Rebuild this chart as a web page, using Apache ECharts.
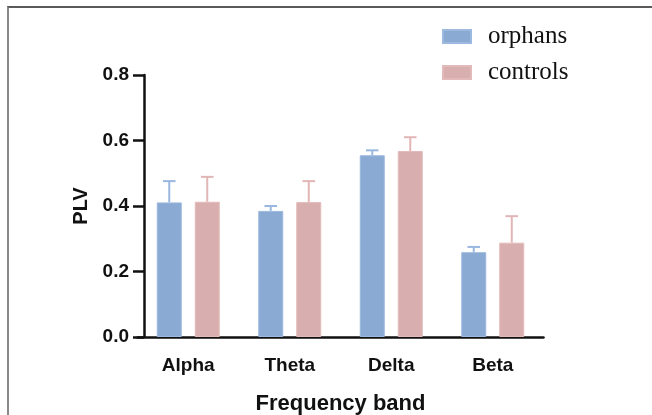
<!DOCTYPE html>
<html>
<head>
<meta charset="utf-8">
<script src="https://cdn.jsdelivr.net/npm/echarts@6/dist/echarts.min.js"></script>
<style>
  html, body { margin: 0; padding: 0; background: #fff; }
  #wrap { position: relative; width: 652px; height: 415px; }
  #chart { width: 652px; height: 415px; }
  #frame { position: absolute; left: 7px; top: 6px; right: 0; bottom: 0;
           border-top: 2px solid #5a5a5a; border-left: 2px solid #8a8a8a; pointer-events: none; }
</style>
</head>
<body>
<div id="wrap">
  <div id="chart"></div>
  <div id="frame"></div>
</div>
<script>
const categories = ['Alpha', 'Theta', 'Delta', 'Beta'];
const seriesNames = ['orphans', 'controls'];
const orphansMean = [0.411, 0.385, 0.555, 0.259];
const orphansErr  = [0.065, 0.015, 0.015, 0.016];
const controlsMean = [0.413, 0.412, 0.568, 0.288];
const controlsErr  = [0.076, 0.064, 0.042, 0.081];
const yTicks = [0, 0.2, 0.4, 0.6, 0.8];

const BLUE = '#8aaad3';
const PINK = '#d9aeae';
const BLUE_ERR = '#9ab8df';
const PINK_ERR = '#e2b6b6';
const BAR_W = 25;
const BAR_GAP_PX = 13;

function errSeries(name, means, errs, color, sign) {
  return {
    name: name + ' err',
    type: 'custom',
    z: 1,
    silent: true,
    data: categories.map((c, i) => [i, means[i], means[i] + errs[i]]),
    renderItem: function (params, api) {
      const off = sign * (BAR_W + BAR_GAP_PX) / 2;
      const lo = api.coord([api.value(0), api.value(1)]);
      const hi = api.coord([api.value(0), api.value(2)]);
      const x = lo[0] + off;
      const cap = 6.3;
      const st = { stroke: color, lineWidth: 2, fill: null };
      return {
        type: 'group',
        children: [
          { type: 'line', shape: { x1: x, y1: lo[1], x2: x, y2: hi[1] }, style: st },
          { type: 'line', shape: { x1: x - cap, y1: hi[1], x2: x + cap, y2: hi[1] }, style: st }
        ]
      };
    }
  };
}

const chart = echarts.init(document.getElementById('chart'), null, { renderer: 'canvas' });
chart.setOption({
  animation: false,
  backgroundColor: '#fff',
  legend: {
    orient: 'vertical',
    left: 442,
    top: 24,
    padding: 0,
    itemWidth: 28,
    itemHeight: 13,
    itemGap: 11,
    data: seriesNames.map(n => ({ name: n, icon: 'rect' })),
    textStyle: { fontFamily: 'Liberation Serif, Times New Roman, serif', fontSize: 25, color: '#111',
                 lineHeight: 25, padding: [0, 0, 0, 12] }
  },
  grid: { left: 137.5, width: 406, top: 75, bottom: 78, containLabel: false, outerBoundsMode: 'none' },
  xAxis: {
    type: 'category',
    data: categories,
    name: 'Frequency band',
    nameLocation: 'middle',
    nameGap: 56,
    nameTextStyle: { fontFamily: 'Liberation Sans, Arial, sans-serif', fontWeight: 'bold', fontSize: 22, color: '#111' },
    axisLine: { lineStyle: { color: '#111', width: 2.5 } },
    axisTick: { alignWithLabel: true, length: 11, lineStyle: { color: '#111', width: 2.5 } },
    axisLabel: { margin: 19, fontFamily: 'Liberation Sans, Arial, sans-serif', fontWeight: 'bold', fontSize: 19, color: '#111' }
  },
  yAxis: {
    type: 'value',
    min: 0, max: 0.8, interval: 0.2,
    offset: -6.5,
    name: 'PLV',
    nameLocation: 'middle',
    nameGap: 52,
    nameTextStyle: { fontFamily: 'Liberation Sans, Arial, sans-serif', fontWeight: 'bold', fontSize: 20, color: '#111' },
    splitLine: { show: false },
    axisLine: { show: true, lineStyle: { color: '#111', width: 2.5 } },
    axisTick: { show: true, length: 11, lineStyle: { color: '#111', width: 2.5 } },
    axisLabel: { margin: 15, fontFamily: 'Liberation Sans, Arial, sans-serif', fontWeight: 'bold', fontSize: 19, color: '#111',
                 formatter: v => yTicks.some(t => Math.abs(t - v) < 1e-9) ? v.toFixed(1) : '' }
  },
  series: [
    { name: 'orphans', type: 'bar', data: orphansMean, barWidth: BAR_W, barGap: (BAR_GAP_PX / BAR_W * 100) + '%',
      itemStyle: { color: BLUE, borderColor: '#9cb9df', borderWidth: 1 }, z: 2 },
    { name: 'controls', type: 'bar', data: controlsMean, barWidth: BAR_W,
      itemStyle: { color: PINK, borderColor: '#e3baba', borderWidth: 1 }, z: 2 },
    errSeries('orphans', orphansMean, orphansErr, BLUE_ERR, -1),
    errSeries('controls', controlsMean, controlsErr, PINK_ERR, 1)
  ]
});
</script>
</body>
</html>
